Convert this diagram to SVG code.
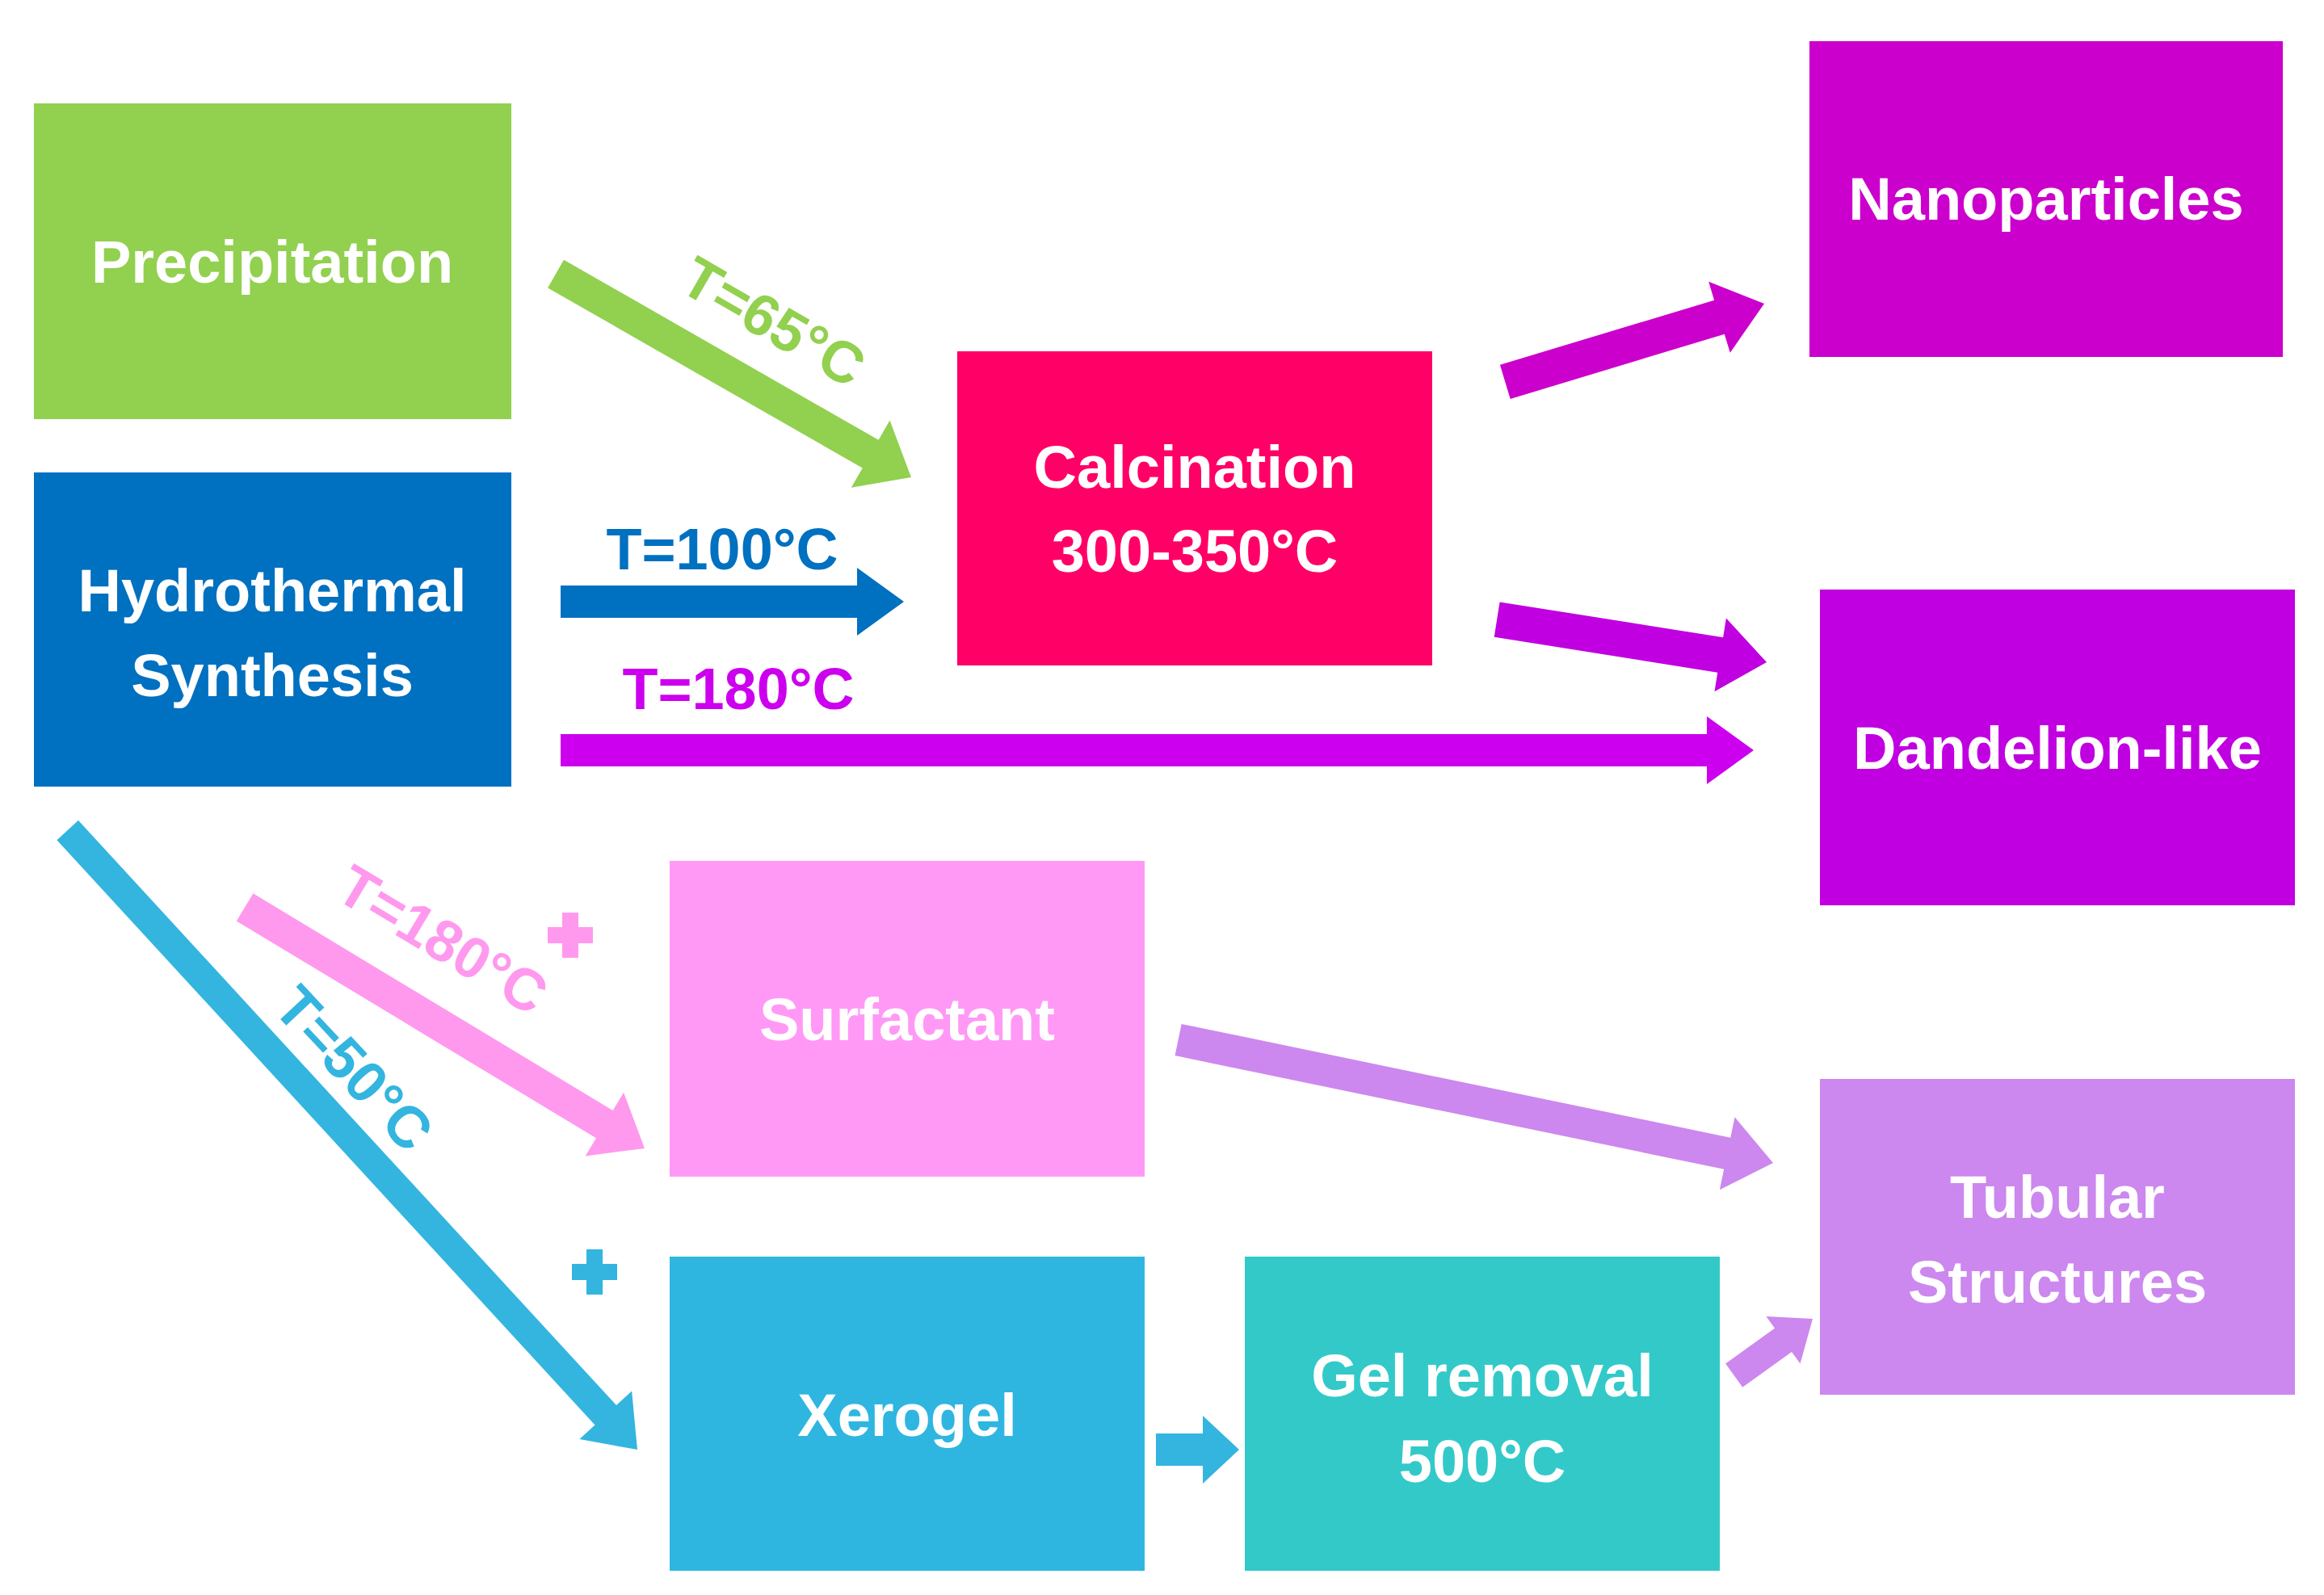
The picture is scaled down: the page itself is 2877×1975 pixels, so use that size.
<svg xmlns="http://www.w3.org/2000/svg" width="2877" height="1975" viewBox="0 0 2877 1975">
<style>
.t{font-family:"Liberation Sans Narrow","Liberation Sans",Arial,sans-serif;font-weight:bold;fill:#fff;font-size:74px;text-anchor:middle}
.l{font-family:"Liberation Sans Narrow","Liberation Sans",Arial,sans-serif;font-weight:bold;font-size:72px;text-anchor:middle}
</style>
<rect width="2877" height="1975" fill="#fff"/>
<g id="precipitation"><rect x="42" y="128" width="591" height="391" fill="#92d050"/><text class="t" x="337" y="350">Precipitation</text></g>
<g id="hydrothermal"><rect x="42" y="585" width="591" height="389" fill="#0070c0"/><text class="t" x="337" y="757">Hydrothermal</text><text class="t" x="337" y="862">Synthesis</text></g>
<g id="calcination"><rect x="1185" y="435" width="588" height="389" fill="#ff0066"/><text class="t" x="1479" y="604">Calcination</text><text class="t" x="1479" y="708">300-350°C</text></g>
<g id="nanoparticles"><rect x="2240" y="51" width="586" height="391" fill="#cc00cc"/><text class="t" x="2533" y="272">Nanoparticles</text></g>
<g id="dandelion"><rect x="2253" y="730" width="588" height="391" fill="#c000e0"/><text class="t" x="2547" y="952">Dandelion-like</text></g>
<g id="surfactant"><rect x="829" y="1066" width="588" height="391" fill="#ff99f5"/><text class="t" x="1123" y="1288">Surfactant</text></g>
<g id="xerogel"><rect x="829" y="1556" width="588" height="389" fill="#2eb6e0"/><text class="t" x="1123" y="1778">Xerogel</text></g>
<g id="gelremoval"><rect x="1541" y="1556" width="588" height="389" fill="#33c9c9"/><text class="t" x="1835" y="1729">Gel removal</text><text class="t" x="1835" y="1835">500°C</text></g>
<g id="tubular"><rect x="2253" y="1336" width="588" height="391" fill="#cc88ee"/><text class="t" x="2547" y="1508">Tubular</text><text class="t" x="2547" y="1613">Structures</text></g>
<g id="connectors">
<polygon fill="#92d050" transform="translate(1128,591) rotate(29.8)" points="0,0 -58,-48 -58,-20 -507,-20 -507,20 -58,20 -58,48"/>
<polygon fill="#0070c0" transform="translate(1119,745)" points="0,0 -58,-42 -58,-20 -425,-20 -425,20 -58,20 -58,42"/>
<polygon fill="#cc00ee" transform="translate(2171,929)" points="0,0 -58,-42 -58,-20 -1477,-20 -1477,20 -58,20 -58,42"/>
<polygon fill="#cc00cc" transform="translate(2184,376) rotate(-16.8)" points="0,0 -58,-46 -58,-22 -335,-22 -335,22 -58,22 -58,46"/>
<polygon fill="#c000e0" transform="translate(2187,820) rotate(9)" points="0,0 -58,-46 -58,-22 -338,-22 -338,22 -58,22 -58,46"/>
<polygon fill="#ff99ee" transform="translate(798,1422) rotate(31.1)" points="0,0 -58,-46 -58,-20 -578,-20 -578,20 -58,20 -58,46"/>
<polygon fill="#33b5e0" transform="translate(789,1795) rotate(47.4)" points="0,0 -58,-44 -58,-18 -1042,-18 -1042,18 -58,18 -58,44"/>
<polygon fill="#cc88ee" transform="translate(2195,1440) rotate(11.7)" points="0,0 -58,-46 -58,-20 -752,-20 -752,20 -58,20 -58,46"/>
<polygon fill="#33b5e0" transform="translate(1534,1795)" points="0,0 -45,-42 -45,-20 -103,-20 -103,20 -45,20 -45,42"/>
<polygon fill="#cc88ee" transform="translate(2244,1633) rotate(-35.8)" points="0,0 -45,-36 -45,-18 -120,-18 -120,18 -45,18 -45,36"/>
</g>
<g id="labels">
<text class="l" fill="#92d050" transform="translate(945,420) rotate(30)">T=65°C</text>
<text class="l" fill="#0070c0" x="894" y="705">T=100°C</text>
<text class="l" fill="#cc00ee" x="914" y="878">T=180°C</text>
<text class="l" fill="#ff99ee" transform="translate(535,1185) rotate(31)">T=180°C</text>
<text class="l" fill="#33b5e0" transform="translate(420,1340) rotate(47)">T=50°C</text>
<path d="M706,1130 v56 M678,1158 h56" stroke="#ff99ee" stroke-width="20"/>
<path d="M736,1547 v56 M708,1575 h56" stroke="#33b5e0" stroke-width="20"/>
</g>
</svg>
